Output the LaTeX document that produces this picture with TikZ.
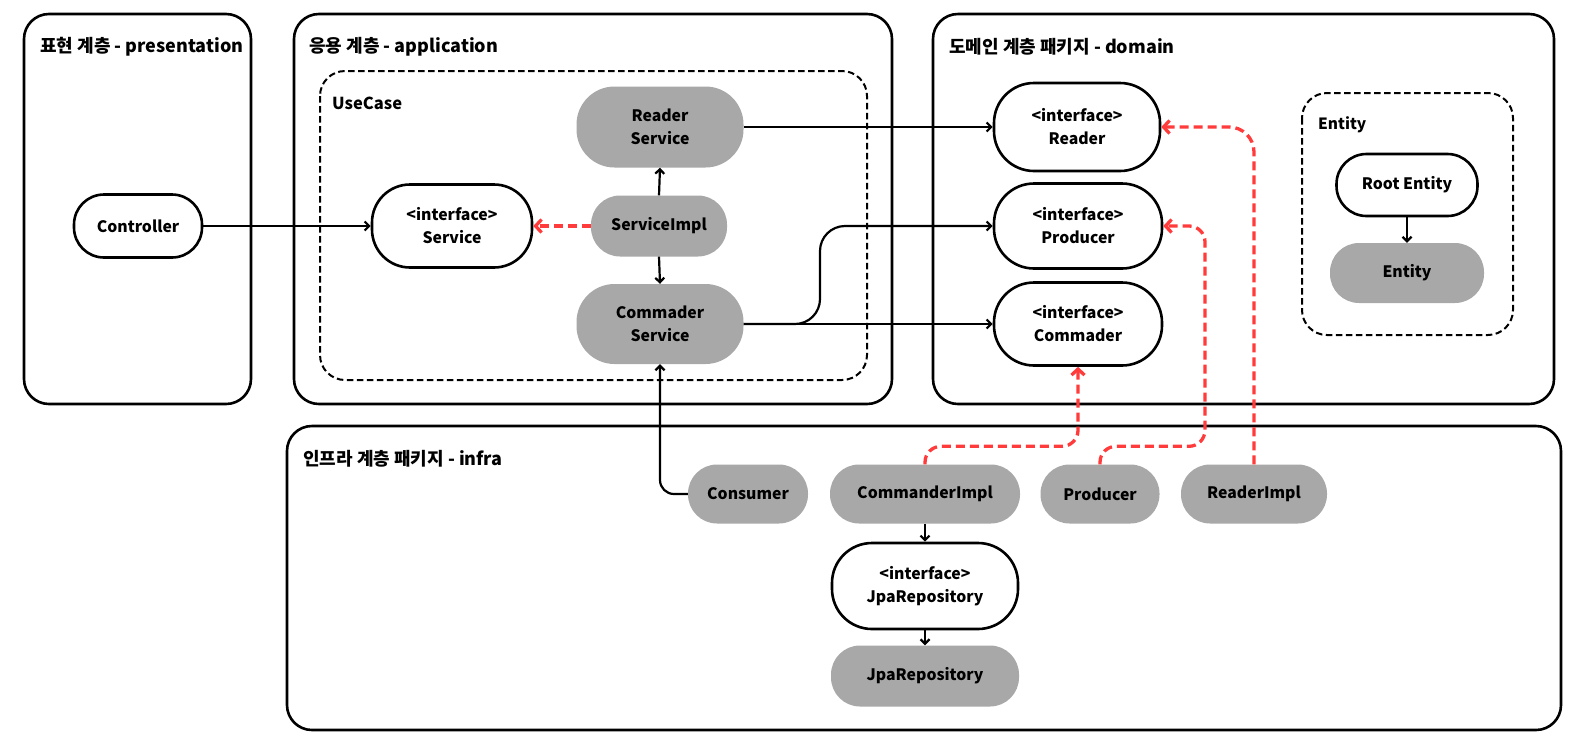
\documentclass[tikz,border=0pt]{standalone}
\usepackage{fontspec}
\setmainfont{Noto Sans CJK KR}
\usetikzlibrary{arrows.meta}
\definecolor{implgray}{HTML}{A7A8A7}
\definecolor{realred}{HTML}{FF3B3B}

\begin{document}
\begin{tikzpicture}[x=1pt,y=-1pt,
  font=\bfseries\fontsize{15.8}{23}\selectfont,
  layerbox/.style={draw, line width=2.6pt, rounded corners=25pt},
  groupbox/.style={draw, line width=2pt, dash pattern=on 6.5pt off 3.5pt, rounded corners=25pt},
  title/.style={anchor=west, inner sep=0pt, font=\bfseries\fontsize{18}{20}\selectfont},
  subtitle/.style={anchor=west, inner sep=0pt, font=\bfseries\fontsize{16.5}{20}\selectfont},
  iface/.style={draw, line width=2.6pt, fill=white, align=center, inner sep=0pt},
  impl/.style={fill=implgray, align=center, inner sep=0pt},
  link/.style={line width=2.2pt, -{Straight Barb[length=4.5pt,width=9pt,line width=2.2pt]}},
  realize/.style={realred, line width=3.3pt, dash pattern=on 9pt off 5pt,
    -{Straight Barb[length=6pt,width=13pt,line width=3.3pt]}, rounded corners=16pt}
]
\useasboundingbox (0,0) rectangle (1590,748);

% layer containers
\draw[layerbox] (24,14) rectangle (251,404);
\draw[layerbox] (294,14) rectangle (892,404);
\draw[layerbox] (933,14) rectangle (1554,404);
\draw[layerbox] (287,426) rectangle (1561,730);

% groups inside layers
\draw[groupbox] (320,71) rectangle (867,380);
\draw[groupbox] (1302,93) rectangle (1513,335);

% titles
\node[title] (tpres) at (40,47) {표현 계층 - presentation};
\node[title] (tapp) at (309,47) {응용 계층 - application};
\node[title] (tdom) at (949,47) {도메인 계층 패키지 - domain};
\node[title] (tinfra) at (303,459) {인프라 계층 패키지 - infra};
\node[subtitle] (tuse) at (332,103) {UseCase};
\node[subtitle, font=\bfseries\fontsize{15.5}{20}\selectfont] (tent) at (1318,125) {Entity};

% presentation
\node[iface, minimum width=128, minimum height=63, rounded corners=30] (ctrl) at (138,226) {Controller};

% application
\node[iface, minimum width=160, minimum height=83, rounded corners=38] (svc) at (452,226) {<interface>\\Service};
\node[impl, minimum width=167, minimum height=81, rounded corners=38] (rsvc) at (660,127) {Reader\\Service};
\node[impl, minimum width=136, minimum height=61, rounded corners=29] (simpl) at (659,226) {ServiceImpl};
\node[impl, minimum width=167, minimum height=80, rounded corners=38] (csvc) at (660,324) {Commader\\Service};

% domain
\node[iface, minimum width=166, minimum height=88, rounded corners=40] (rif) at (1077,127) {<interface>\\Reader};
\node[iface, minimum width=168, minimum height=85, rounded corners=40] (pif) at (1078,226) {<interface>\\Producer};
\node[iface, minimum width=168, minimum height=83, rounded corners=40] (cif) at (1078,324) {<interface>\\Commader};
\node[iface, minimum width=141, minimum height=62, rounded corners=30] (root) at (1407,185) {Root Entity};
\node[impl, minimum width=154, minimum height=60, rounded corners=29] (ent) at (1407,273) {Entity};

% infra
\node[impl, minimum width=120, minimum height=59, rounded corners=29] (cons) at (748,494) {Consumer};
\node[impl, minimum width=190, minimum height=59, rounded corners=29] (cimpl) at (925,494) {CommanderImpl};
\node[impl, minimum width=119, minimum height=59, rounded corners=29] (prod) at (1100,494) {Producer};
\node[impl, minimum width=146, minimum height=59, rounded corners=29] (rimpl) at (1254,494) {ReaderImpl};
\node[iface, minimum width=186, minimum height=86, rounded corners=40] (jpaif) at (925,586) {<interface>\\JpaRepository};
\node[impl, minimum width=188, minimum height=61, rounded corners=29] (jpa) at (925,676) {JpaRepository};

% bend points
\coordinate (pbend) at (1205,226);
\coordinate (prodbend) at (820,226);

% dependencies
\draw[link] (ctrl.east) -- (svc.west);
\draw[realize] (simpl.west) -- (svc.east);
\draw[link] (simpl.north) -- (rsvc.south);
\draw[link] (simpl.south) -- (csvc.north);
\draw[link] (rsvc.east) -- (rif.west);
\draw[link] (csvc.east) -- (cif.west);
\draw[link, rounded corners=25pt] (csvc.east) -| (prodbend) -- (pif.west);
\draw[link, rounded corners=14pt] (cons.west) -| (csvc.south);
\draw[link] (root.south) -- (ent.north);
\draw[link] (cimpl.south) -- (jpaif.north);
\draw[link] (jpaif.south) -- (jpa.north);

% implementations
\draw[realize] (cimpl.north) -- ++(0,-18) -| (cif.south);
\draw[realize] (prod.north) -- ++(0,-18) -| (pbend) -- (pif.east);
\draw[realize, rounded corners=25pt] (rimpl.north) |- (rif.east);
\end{tikzpicture}
\end{document}
